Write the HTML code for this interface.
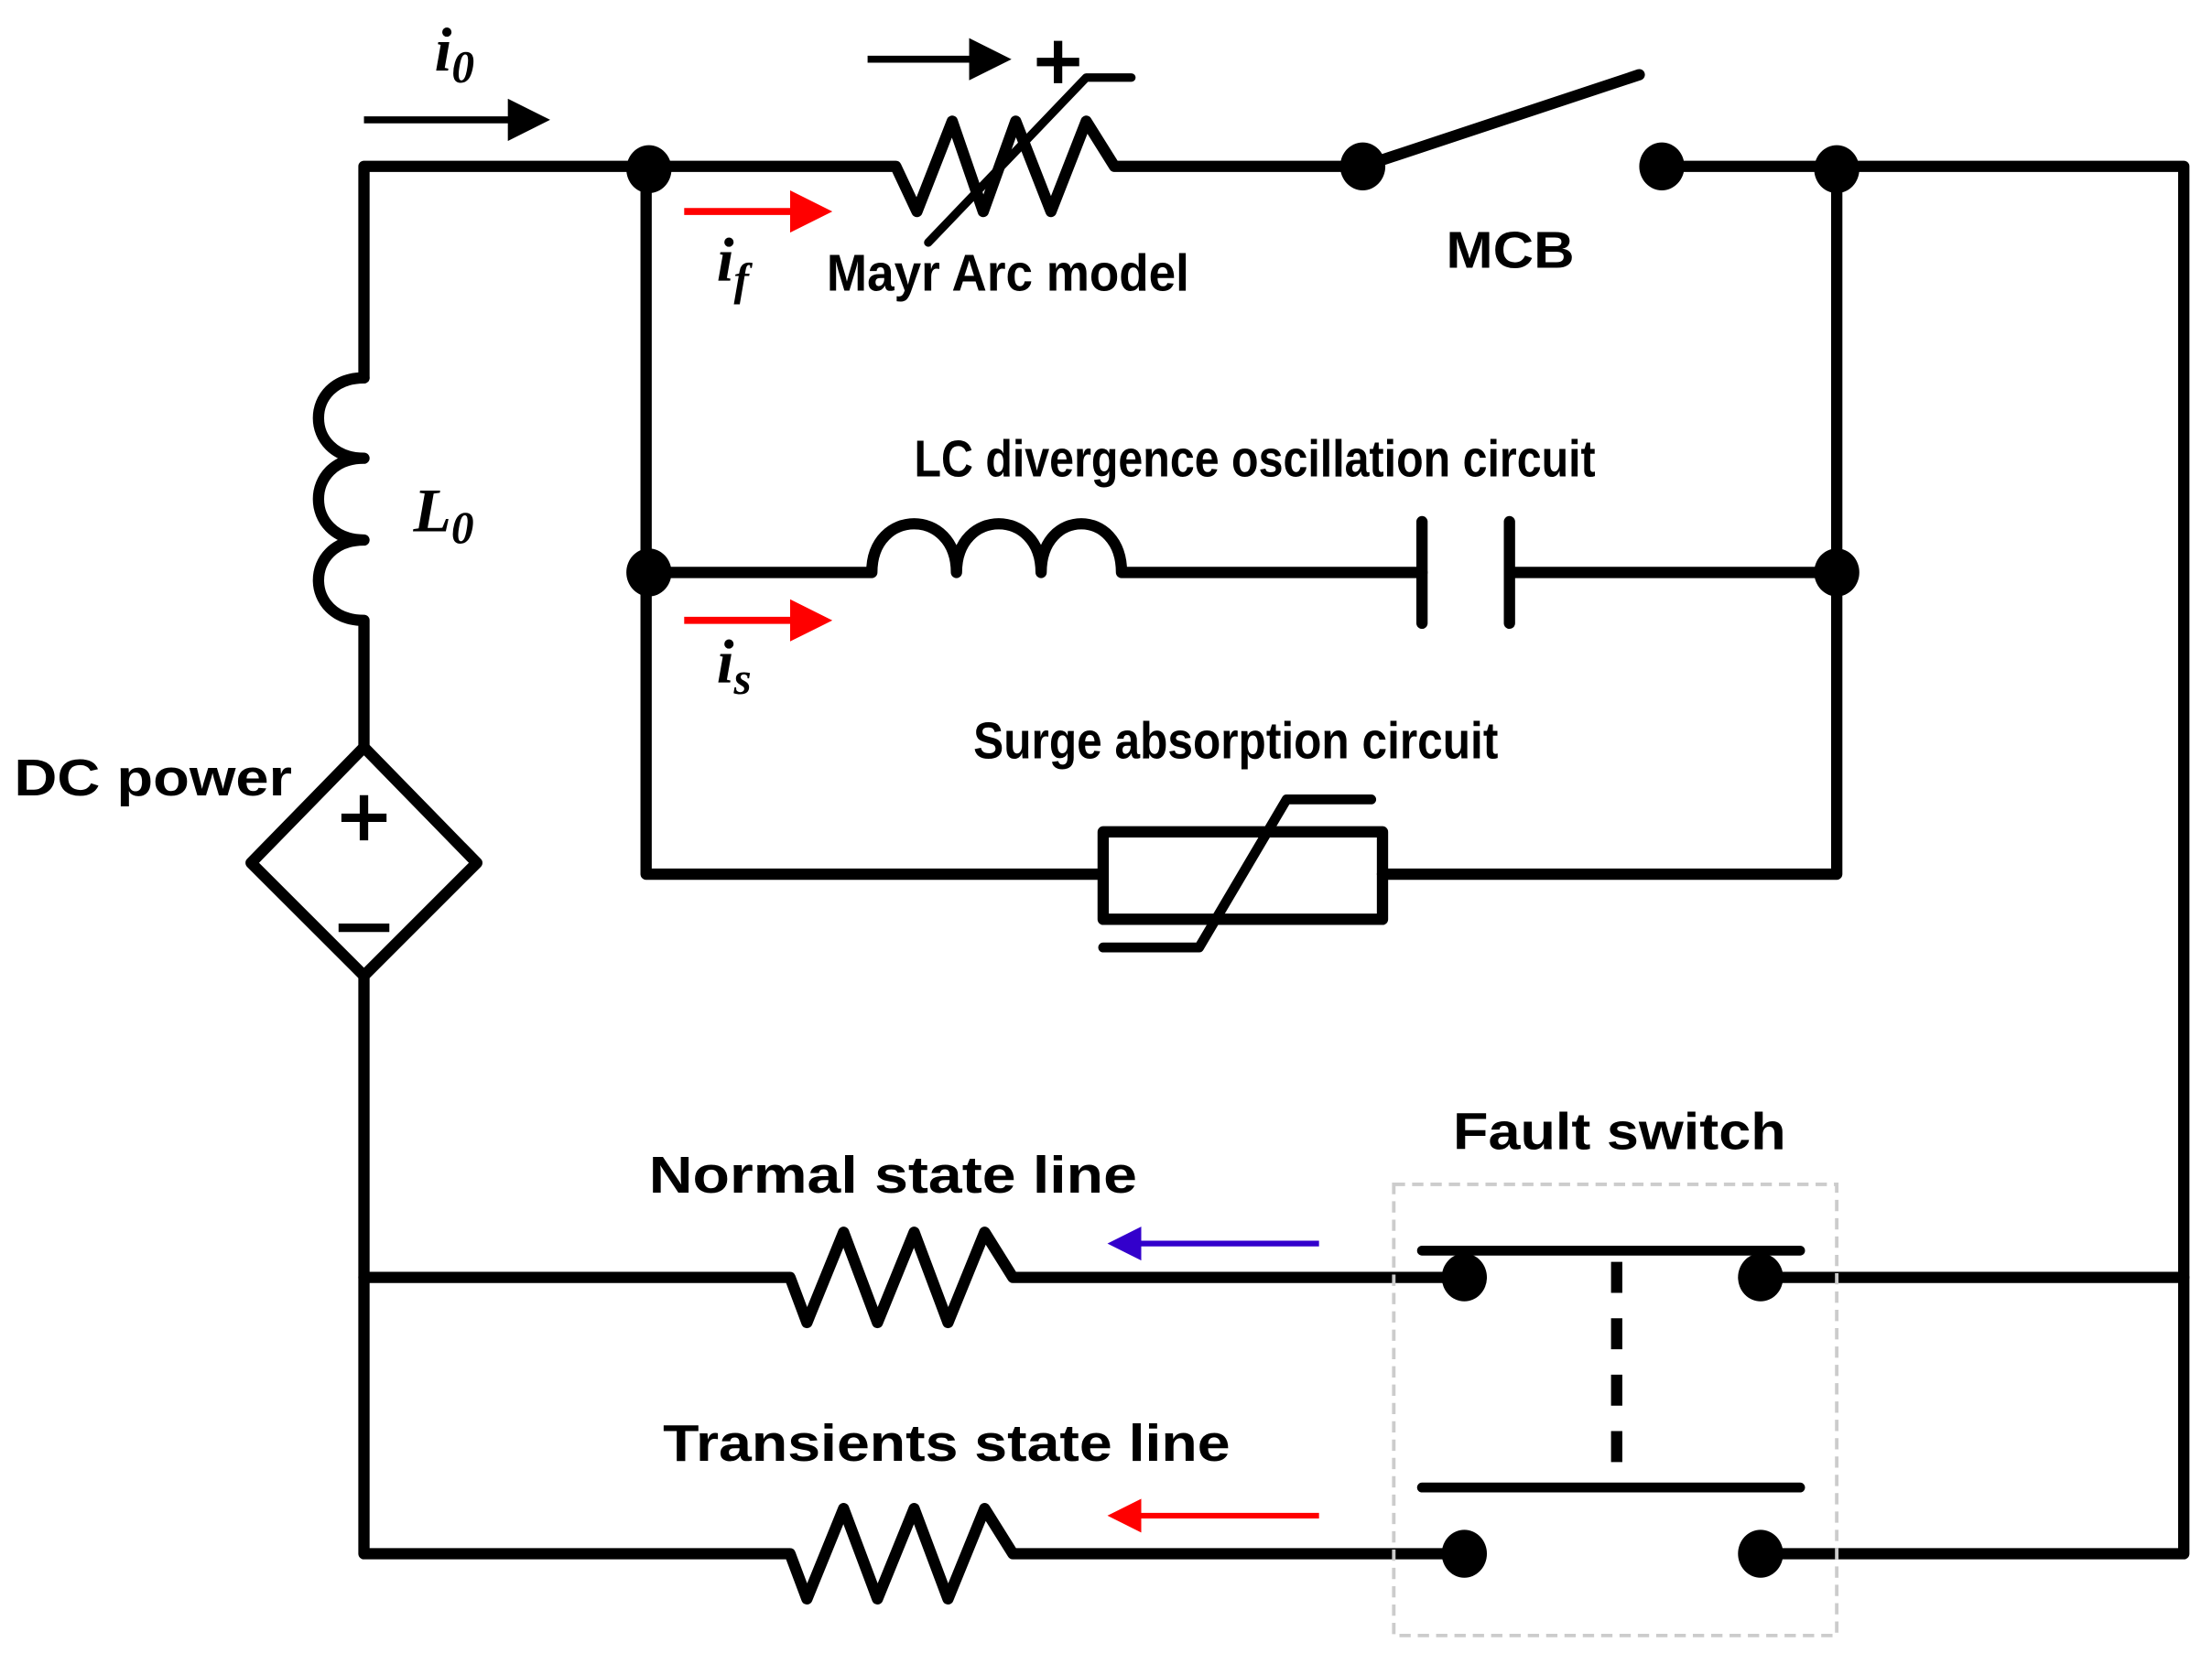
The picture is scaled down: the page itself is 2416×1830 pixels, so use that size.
<!DOCTYPE html>
<html><head><meta charset="utf-8"><style>
html,body{margin:0;padding:0;background:#fff;}
svg{display:block;}
text{font-family:"Liberation Sans",sans-serif;font-weight:bold;fill:#000;}
.m{font-family:"Liberation Serif",serif;font-style:italic;}
</style></head><body>
<svg width="2416" height="1830" viewBox="0 0 1568 1188" preserveAspectRatio="none" xmlns="http://www.w3.org/2000/svg">
<defs>
<marker id="ak" markerWidth="6" markerHeight="6" refX="1" refY="3" orient="auto" markerUnits="strokeWidth"><path d="M0,0 L6,3 L0,6z" fill="#000"/></marker>
<marker id="ar" markerWidth="6" markerHeight="6" refX="1" refY="3" orient="auto" markerUnits="strokeWidth"><path d="M0,0 L6,3 L0,6z" fill="#f00"/></marker>
<marker id="ab" markerWidth="6" markerHeight="6" refX="1" refY="3" orient="auto" markerUnits="strokeWidth"><path d="M0,0 L6,3 L0,6z" fill="#3300cc"/></marker>
</defs>
<g fill="none" stroke="#000" stroke-width="8" stroke-linejoin="round" stroke-linecap="round">
<path d="M258,268 L258,118 L635,118 L650,150 L675,86 L697,150 L720,86 L745,150 L770,86 L790,118 L966,118"/>
<path d="M258,268 C215,268 215,325 258,325 C215,325 215,383 258,383 C215,383 215,440 258,440 L258,530"/>
<path d="M258,530 L338,612 L258,692 L178,612 Z"/>
<path d="M258,692 L258,1102 L560,1102 L572,1134 L598,1070 L622,1134 L648,1070 L672,1134 L698,1070 L718,1102 L1038,1102"/>
<path d="M258,906 L560,906 L572,938 L598,874 L622,938 L648,874 L672,938 L698,874 L718,906 L1038,906"/>
<path d="M1248,906 L1548,906"/>
<path d="M1248,1102 L1548,1102 L1548,118 L1178,118"/>
<path d="M966,118 L1162,53"/>
<path d="M658,172 L770,55 L802,55" stroke-width="6"/>
<path d="M458,118 L458,620 L780,620"/>
<path d="M1302,118 L1302,620 L980,620"/>
<rect x="782" y="590" width="198" height="62"/>
<path d="M782,672 L850,672 L912,567 L972,567" stroke-width="7"/>
<path d="M458,406 L618,406 C618,360 678,360 678,406 C678,360 738,360 738,406 C738,360 795,360 795,406 L1008,406"/>
<path d="M1008,370 L1008,442 M1070,370 L1070,442"/>
<path d="M1070,406 L1302,406"/>
<path d="M1008,887 L1276,887 M1008,1055 L1276,1055" stroke-width="7"/>
<path d="M1146,895 L1146,1040" stroke-dasharray="22,18" stroke-linecap="butt"/>
</g>
<rect x="988" y="840" width="314" height="320" fill="none" stroke="#ccc" stroke-width="2.5" stroke-dasharray="8,5"/>
<g fill="#000">
<ellipse cx="460" cy="120" rx="16" ry="17"/><ellipse cx="966" cy="118" rx="16" ry="17"/><ellipse cx="1178" cy="118" rx="16" ry="17"/>
<ellipse cx="1302" cy="120" rx="16" ry="17"/><ellipse cx="460" cy="406" rx="16" ry="17"/><ellipse cx="1302" cy="406" rx="16" ry="17"/>
<ellipse cx="1038" cy="906" rx="16" ry="17"/><ellipse cx="1248" cy="906" rx="16" ry="17"/>
<ellipse cx="1038" cy="1102" rx="16" ry="17"/><ellipse cx="1248" cy="1102" rx="16" ry="17"/>
</g>
<line x1="258" y1="85" x2="365" y2="85" stroke="#000" stroke-width="5" marker-end="url(#ak)"/>
<line x1="615" y1="42" x2="692" y2="42" stroke="#000" stroke-width="5" marker-end="url(#ak)"/>
<line x1="485" y1="150" x2="565" y2="150" stroke="#f00" stroke-width="5" marker-end="url(#ar)"/>
<line x1="485" y1="440" x2="565" y2="440" stroke="#f00" stroke-width="5" marker-end="url(#ar)"/>
<line x1="935" y1="882" x2="805" y2="882" stroke="#3300cc" stroke-width="4" marker-end="url(#ab)"/>
<line x1="935" y1="1075" x2="805" y2="1075" stroke="#f00" stroke-width="4" marker-end="url(#ar)"/>
<path d="M735,44 L765,44 M750,29 L750,59" stroke="#000" stroke-width="6"/>
<path d="M242,580 L274,580 M258,564 L258,596 M240,658 L276,658" stroke="#000" stroke-width="6"/>
<text class="m" x="308" y="50" font-size="44">i<tspan font-size="32" dy="8">0</tspan></text>
<text class="m" x="508" y="199" font-size="44">i<tspan font-size="32" dy="10">f</tspan></text>
<text class="m" x="508" y="484" font-size="44">i<tspan font-size="32" dy="8">s</tspan></text>
<text class="m" x="293" y="377" font-size="44">L<tspan font-size="32" dy="8">0</tspan></text>
<text x="586" y="206" font-size="37" textLength="257" lengthAdjust="spacingAndGlyphs">Mayr Arc model</text>
<text x="1025" y="190" font-size="37" textLength="91" lengthAdjust="spacingAndGlyphs">MCB</text>
<text x="648" y="338" font-size="37" textLength="483" lengthAdjust="spacingAndGlyphs">LC divergence oscillation circuit</text>
<text x="690" y="538" font-size="37" textLength="372" lengthAdjust="spacingAndGlyphs">Surge absorption circuit</text>
<text x="10" y="564" font-size="37" textLength="197" lengthAdjust="spacingAndGlyphs">DC power</text>
<text x="1030" y="815" font-size="37" textLength="236" lengthAdjust="spacingAndGlyphs">Fault switch</text>
<text x="460" y="846" font-size="37" textLength="346" lengthAdjust="spacingAndGlyphs">Normal state line</text>
<text x="470" y="1036" font-size="37" textLength="402" lengthAdjust="spacingAndGlyphs">Transients state line</text>
</svg>
</body></html>
